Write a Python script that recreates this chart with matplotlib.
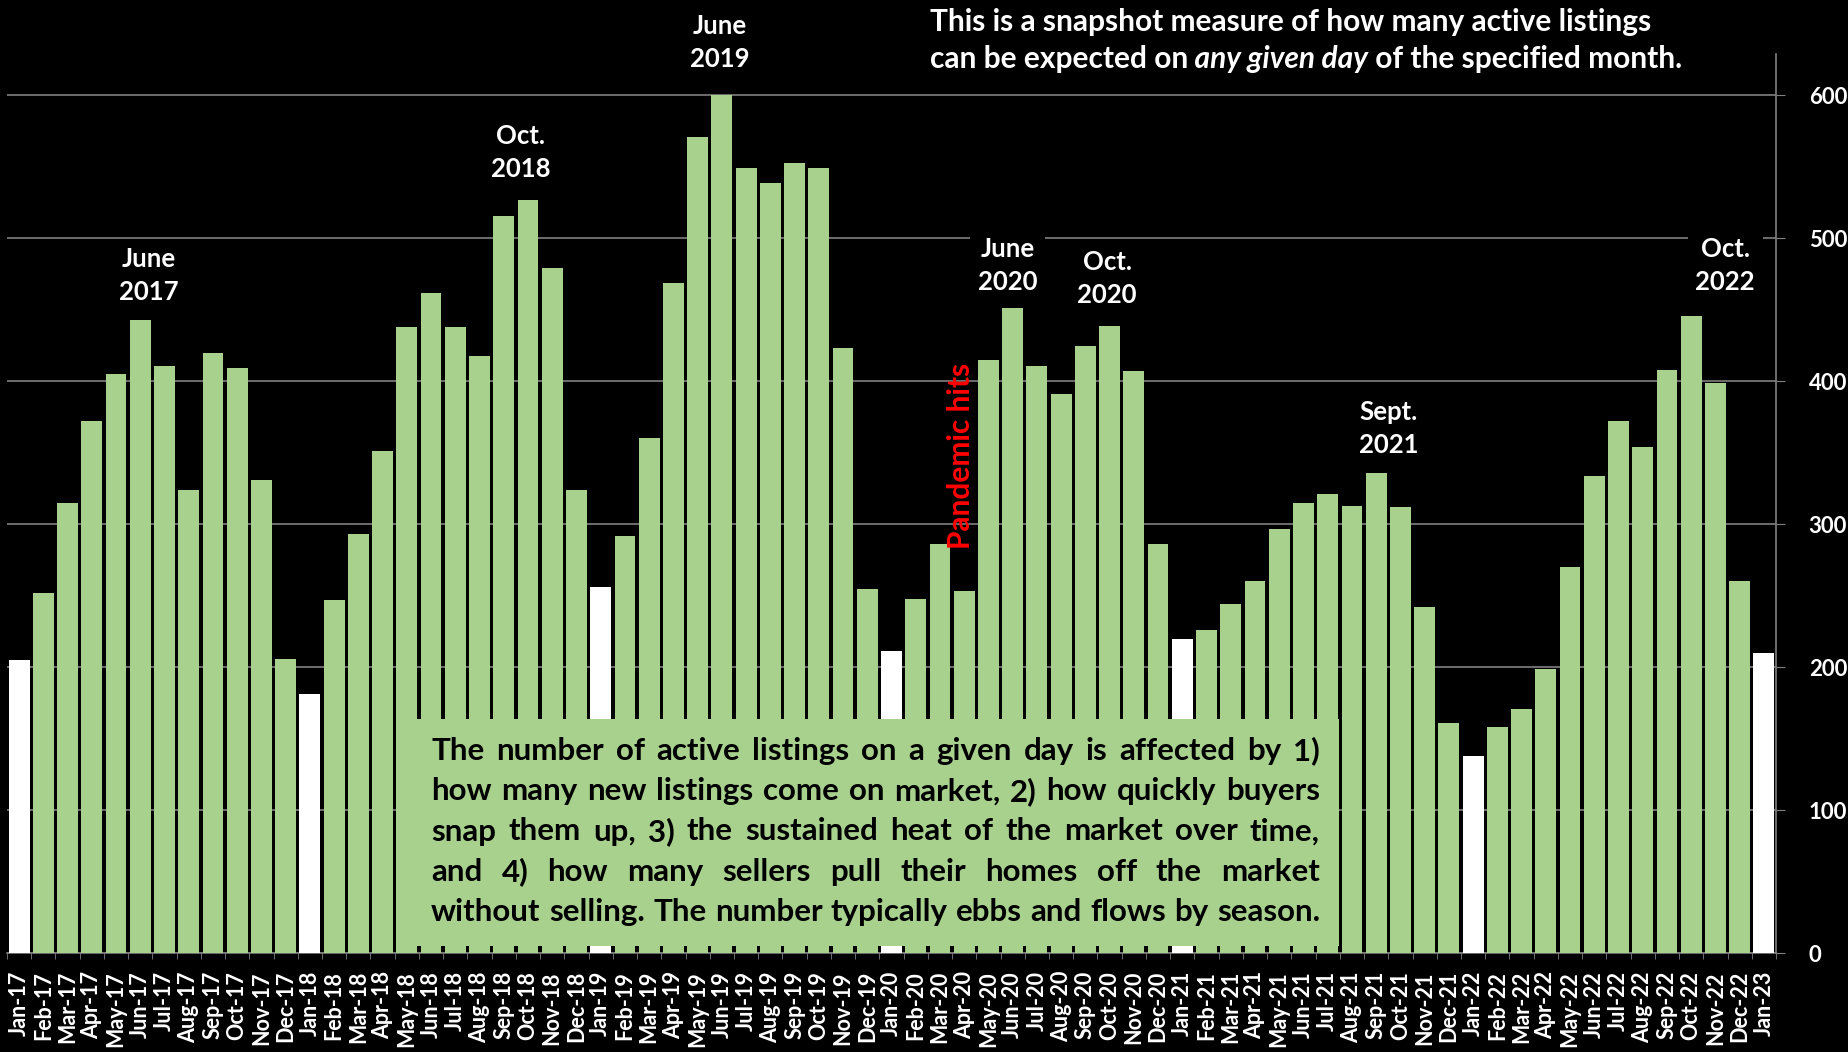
import matplotlib
matplotlib.use("Agg")
import matplotlib.pyplot as plt
from matplotlib.transforms import IdentityTransform
from matplotlib.patches import Rectangle
import numpy as np

# active listings on a given day, Jan 2017 - Jan 2023
months = []
for yy in range(17, 23):
    for mm in ["Jan", "Feb", "Mar", "Apr", "May", "Jun", "Jul", "Aug", "Sep", "Oct", "Nov", "Dec"]:
        months.append(f"{mm}-{yy}")
months.append("Jan-23")

listings = [
    205, 252, 315, 372, 405, 443, 411, 324, 420, 409, 331, 206,   # 2017
    181, 247, 293, 351, 438, 462, 438, 418, 516, 527, 479, 324,   # 2018
    256, 292, 360, 469, 571, 600, 549, 539, 553, 549, 423, 255,   # 2019
    211, 248, 286, 253, 415, 451, 411, 391, 425, 439, 407, 286,   # 2020
    220, 226, 244, 260, 297, 315, 321, 313, 336, 312, 242, 161,   # 2021
    138, 158, 171, 199, 270, 334, 372, 354, 408, 446, 399, 260,   # 2022
    210,                                                          # 2023
]

peak_labels = ["June\n2017", "Oct.\n2018", "June\n2019", "June\n2020", "Oct.\n2020", "Sept.\n2021", "Oct.\n2022"]
peak_x = [5.36, 20.7, 28.9, 40.8, 44.9, 56.5, 70.4]
peak_y = [474, 560, 637, 481, 472, 367, 481]

top_note_1 = "This is a snapshot measure of how many active listings"
top_note_2 = ["can be expected on", " any given day", " of the specified month."]

box_lines = [
    "The number of active listings on a given day is affected by 1)",
    "how many new listings come on market, 2) how quickly buyers",
    "snap them up, 3) the sustained heat of the market over time,",
    "and 4) how many sellers pull their homes off the market",
    "without selling. The number typically ebbs and flows by season.",
]

GREEN = "#A9D18E"
GRID = "#808080"
FONT = "Lato"
W, H = 1849, 1052

fig = plt.figure(figsize=(W / 100, H / 100), dpi=100, facecolor="black")
ax = fig.add_axes([7 / W, 1 - 953 / H, (1776 - 7) / W, (953 - 54) / H])
ax.set_facecolor("black")

x = np.arange(len(months))
colors = ["white" if m.startswith("Jan") else GREEN for m in months]
ax.bar(x, listings, width=0.86, color=colors, zorder=3)

ax.set_xlim(-0.5, len(months) - 0.5)
ax.set_ylim(0, 629)
ax.yaxis.tick_right()
ax.set_yticks(range(0, 601, 100))
ax.grid(axis="y", color=GRID, lw=1.2)
ax.set_axisbelow(True)

for s in ["left", "top"]:
    ax.spines[s].set_visible(False)
for s in ["right", "bottom"]:
    ax.spines[s].set_color(GRID)
    ax.spines[s].set_linewidth(1.2)

ax.set_xticks(x, months, rotation=90, fontsize=15.5, fontweight="bold", color="white", family=FONT)
ax.set_xticks(np.arange(-0.5, len(months)), minor=True)
ax.tick_params(axis="x", which="major", length=0, pad=13)
ax.tick_params(axis="x", which="minor", length=4, color=GRID)
ax.tick_params(axis="y", length=6.5, color=GRID, labelcolor="white", labelsize=16, pad=17)
for lab in ax.get_yticklabels():
    lab.set_fontweight("bold")
    lab.set_family(FONT)

# peak labels
for txt, px_, py_ in zip(peak_labels, peak_x, peak_y):
    ax.text(px_, py_, txt, ha="center", va="center", color="white", fontsize=18.5,
            fontweight="bold", family=FONT, linespacing=1.45, zorder=4,
            bbox=dict(facecolor="black", edgecolor="none", boxstyle="square,pad=0.3"))

ax.text(38.87, 348, "Pandemic hits", rotation=90, ha="center", va="center",
        color="red", fontsize=21.5, fontweight="bold", family=FONT, zorder=4)

# note at the top, with italic words
fig.text(930 / W, 1 - 22 / H, top_note_1, ha="left", va="center", color="white",
         fontsize=21.5, fontweight="bold", family=FONT)
prev = fig.text(930 / W, 1 - 59 / H, top_note_2[0], ha="left", va="center", color="white",
                fontsize=21.5, fontweight="bold", family=FONT)
for i, part in enumerate(top_note_2[1:]):
    prev = ax.annotate(part, xy=(1, 0), xycoords=prev, ha="left", va="bottom", color="white",
                       fontsize=21.5, fontweight="bold", family=FONT,
                       style="italic" if i == 0 else "normal")

# green explanation box with justified text
fig.add_artist(Rectangle((403, H - 946), 936, 227, transform=IdentityTransform(),
                         facecolor=GREEN, edgecolor="none", zorder=5))

renderer = fig.canvas.get_renderer()
x0, x1 = 431, 1320
for i, line in enumerate(box_lines):
    words = line.split()
    arts = [fig.text(0, 0, w, transform=IdentityTransform(), ha="left", va="center",
                     color="black", fontsize=22.5, fontweight="bold", family=FONT, zorder=6)
            for w in words]
    widths = [a.get_window_extent(renderer).width for a in arts]
    gap = (x1 - x0 - sum(widths)) / (len(words) - 1)
    xpos = x0
    for a, wd in zip(arts, widths):
        a.set_position((xpos, H - (751 + i * 40.25)))
        xpos += wd + gap

fig.savefig("out.png", dpi=100, facecolor="black")
